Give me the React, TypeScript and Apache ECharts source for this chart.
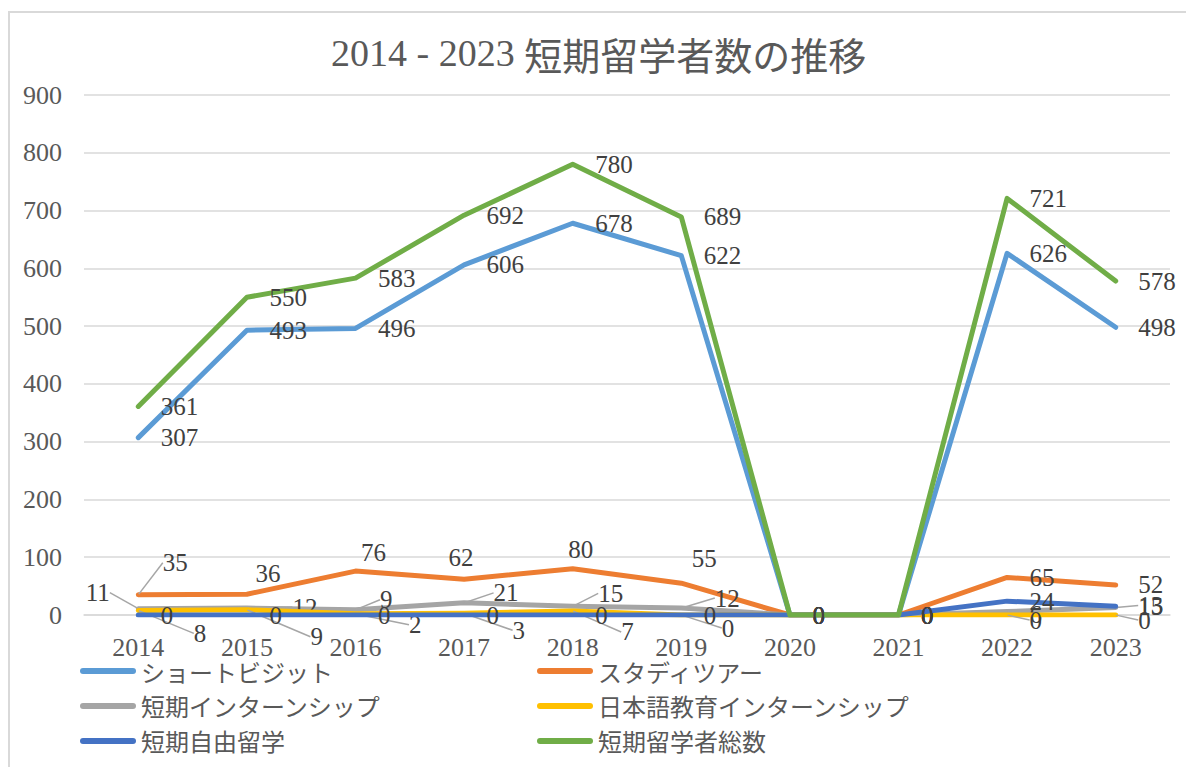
import React, { useEffect, useRef } from "react";
import * as echarts from "echarts";

const categories = ["2014", "2015", "2016", "2017", "2018", "2019", "2020", "2021", "2022", "2023"];
const seriesNames = ["ショートビジット", "スタディツアー", "短期インターンシップ", "日本語教育インターンシップ", "短期自由留学", "短期留学者総数"];
const shortVisit = [307, 493, 496, 606, 678, 622, 0, 0, 626, 498];
const studyTour = [35, 36, 76, 62, 80, 55, 0, 0, 65, 52];
const internship = [11, 12, 9, 21, 15, 12, 0, 0, 6, 13];
const jpInternship = [8, 9, 2, 3, 7, 0, 0, 0, 0, 0];
const freeStudy = [0, 0, 0, 0, 0, 0, 0, 0, 24, 15];
const total = [361, 550, 583, 692, 780, 689, 0, 0, 721, 578];
const yMin = 0;
const yMax = 900;
const yInterval = 100;

const colors = ["#5B9BD5", "#ED7D31", "#A5A5A5", "#FFC000", "#4472C4", "#70AD47"];

// label nudges (pixels) relative to the default "right" placement
const studyTourMoves = [[2, -32], [-14, -21], [-17, -19], [-38, -22], [-27, -19], [-12, -25], [0, 0], [0, 0], [0, 0], [0, 0]];
const internshipMoves = [[-75, -16], [23, -1], [2, -10], [7, -10], [3, -13], [11, -10], [0, 0], [0, 0], [0, 3], [0, -2]];
const jpInternshipMoves = [[33, 23], [41, 27], [31, 11], [26, 17], [26, 21], [18, 13], [0, 0], [0, 0], [0, 5], [0, 5]];

const SERIF = "'Liberation Serif', 'Noto Sans CJK JP', serif";
const CJK = "'Noto Sans CJK JP', sans-serif";
const LEGEND_ICON = "path://M3,0 H53 A3,3 0 0 1 53,6 H3 A3,3 0 0 1 3,0 Z";

export default function App() {
  const ref = useRef<HTMLDivElement>(null);
  useEffect(() => {
    if (!ref.current) return;
    const chart = echarts.init(ref.current, null, { renderer: "svg" });
    const labelBase = {
      show: true,
      position: "right",
      distance: 22,
      color: "#404040",
      fontFamily: SERIF,
      fontSize: 25,
    };
    const mk = (idx: number, values: number[], moves?: number[][], leader?: boolean, dataMap?: (v: number, i: number) => any) => {
      const s: any = {
        name: seriesNames[idx],
        type: "line",
        data: dataMap ? values.map(dataMap) : values,
        showSymbol: true,
        symbol: "circle",
        symbolSize: 1,
        color: colors[idx],
        itemStyle: { color: colors[idx] },
        lineStyle: { width: 5, color: colors[idx], cap: "round", join: "round" },
        label: labelBase,
        z: 2 + idx,
      };
      if (moves) {
        s.labelLayout = (p: any) => ({ dx: moves[p.dataIndex][0], dy: moves[p.dataIndex][1] });
      }
      if (leader) {
        s.labelLine = { show: true, lineStyle: { color: "#A6A6A6", width: 1.5 } };
      }
      return s;
    };
    const legendText = { fontFamily: CJK, fontSize: 24, lineHeight: 23, color: "#595959" };
    const option: any = {
      animation: false,
      backgroundColor: "#fff",
      title: {
        text: "{a|2014 - 2023 }{b|短期留学者数の推移}",
        left: 331,
        top: 34,
        padding: 0,
        textStyle: {
          fontWeight: "normal",
          rich: {
            a: { fontFamily: "'Liberation Serif', serif", fontSize: 38, fontWeight: "normal", color: "#595959" },
            b: { fontFamily: CJK, fontSize: 38, fontWeight: "normal", color: "#595959" },
          },
        },
      },
      graphic: [
        {
          type: "rect",
          shape: { x: 9, y: 12, width: 1200, height: 800 },
          style: { fill: "none", stroke: "#D9D9D9", lineWidth: 2 },
          silent: true,
        },
      ],
      grid: { left: 84, right: 16, top: 95, bottom: 152 },
      legend: [
        {
          data: [seriesNames[0], seriesNames[2], seriesNames[4]],
          orient: "vertical",
          left: 80,
          top: 659,
          padding: 0,
          itemWidth: 56,
          itemHeight: 6,
          itemGap: 11,
          icon: LEGEND_ICON,
          textStyle: legendText,
        },
        {
          data: [seriesNames[1], seriesNames[3], seriesNames[5]],
          orient: "vertical",
          left: 537,
          top: 659,
          padding: 0,
          itemWidth: 56,
          itemHeight: 6,
          itemGap: 11,
          icon: LEGEND_ICON,
          textStyle: legendText,
        },
      ],
      xAxis: {
        type: "category",
        data: categories,
        boundaryGap: true,
        axisLine: { show: true, lineStyle: { color: "#D9D9D9", width: 1.5 } },
        axisTick: { show: false },
        axisLabel: { fontFamily: SERIF, fontSize: 26, color: "#595959", margin: 19 },
      },
      yAxis: {
        type: "value",
        min: yMin,
        max: yMax,
        interval: yInterval,
        axisLine: { show: false },
        axisTick: { show: false },
        splitLine: { lineStyle: { color: "#D9D9D9", width: 1.5 } },
        axisLabel: { fontFamily: SERIF, fontSize: 26, color: "#595959", margin: 22 },
      },
      series: [
        mk(0, shortVisit),
        mk(1, studyTour, studyTourMoves, false, (v, i) =>
          i === 0 ? { value: v, labelLine: { show: true, lineStyle: { color: "#A6A6A6", width: 1.5 } } } : v
        ),
        mk(2, internship, internshipMoves, true),
        mk(3, jpInternship, jpInternshipMoves, true),
        mk(4, freeStudy),
        mk(5, total),
      ],
    };
    chart.setOption(option);
    return () => chart.dispose();
  }, []);
  return <div ref={ref} style={{ position: "absolute", left: 0, top: 0, width: 1186, height: 767 }} />;
}
